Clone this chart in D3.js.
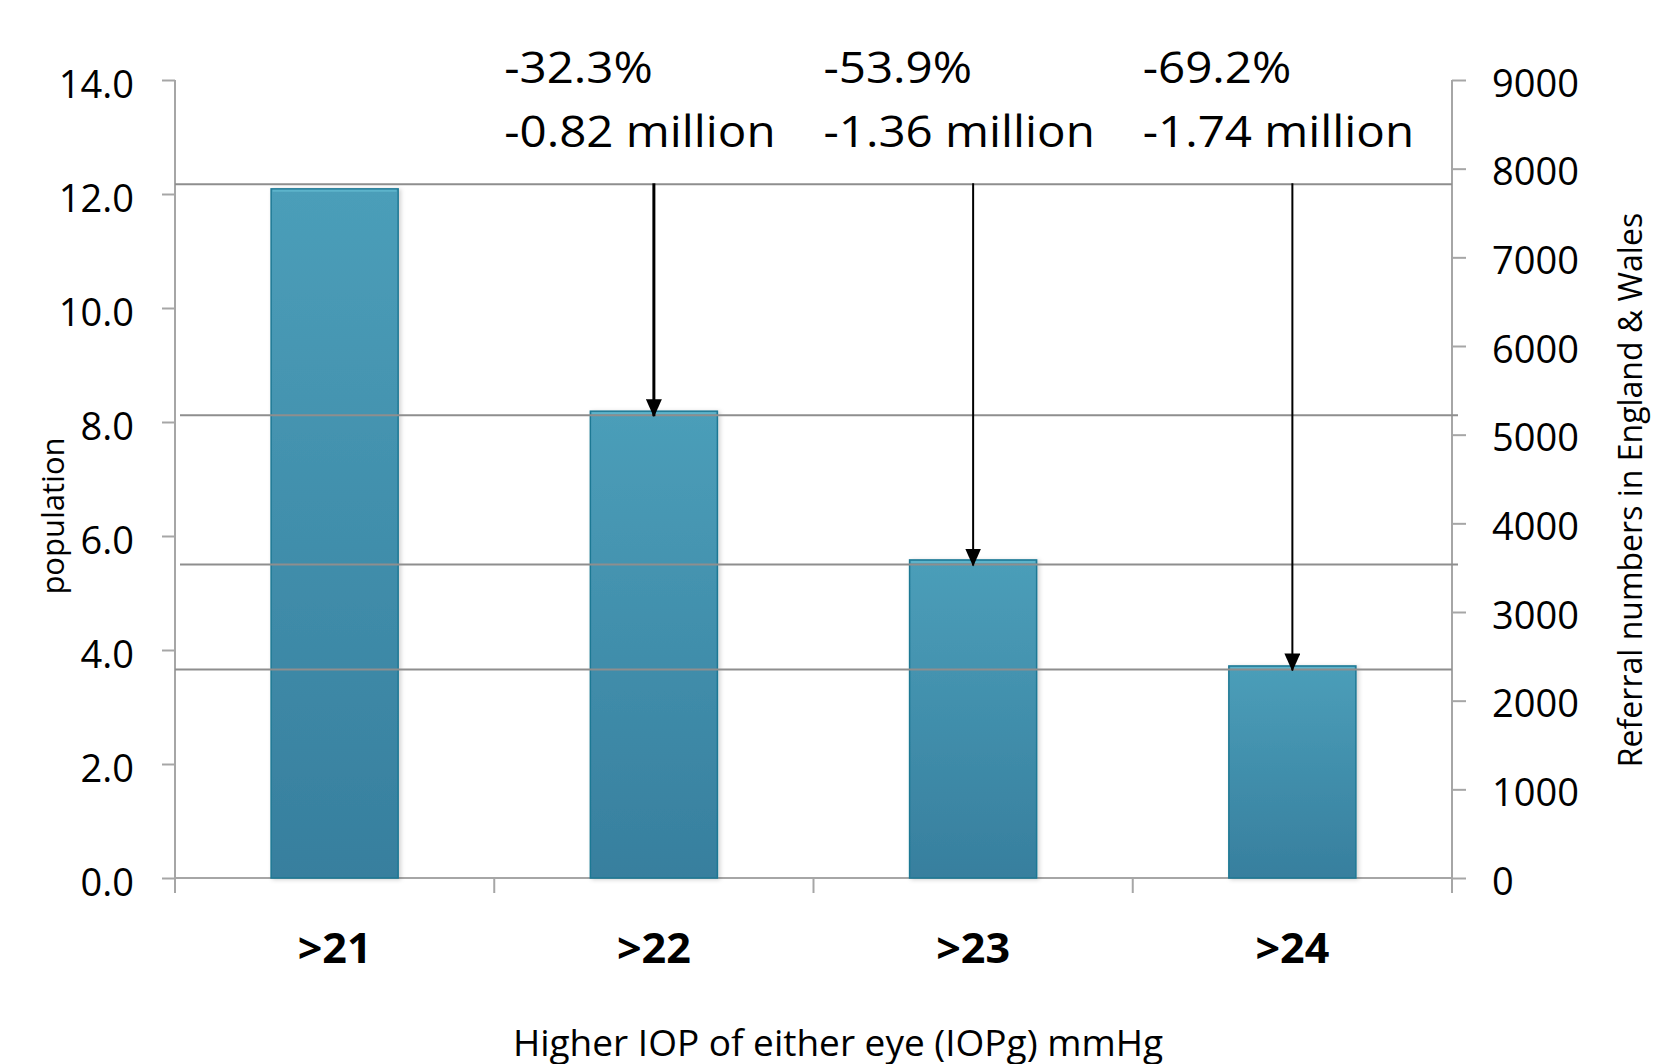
<!DOCTYPE html>
<html>
<head>
<meta charset="utf-8">
<script src="https://d3js.org/d3.v7.min.js"></script>
<style>
  body { margin: 0; background: #fff; }
  svg { display: block; font-family: 'Open Sans', sans-serif; }
</style>
</head>
<body>
<div id="vis"></div>
<script>
// chart values
const categories = ['>21', '>22', '>23', '>24']
const population = [12.09, 8.19, 5.58, 3.72]      // left axis, bar heights
const refLevels = [12.17, 8.12, 5.50, 3.66]       // grey guide lines drawn across the plot
const pctChange = ['', '-32.3%', '-53.9%', '-69.2%']
const millionChange = ['', '-0.82 million', '-1.36 million', '-1.74 million']
const leftTicks = [0, 2, 4, 6, 8, 10, 12, 14]
const rightTicks = [0, 1000, 2000, 3000, 4000, 5000, 6000, 7000, 8000, 9000]

const width = 1666
const height = 1064
const plot = { left: 175, right: 1452, top: 80, bottom: 878 }

const svg = d3.select('#vis').append('svg')
  .attr('width', width)
  .attr('height', height)

svg.append('rect').attr('width', width).attr('height', height).attr('fill', '#fff')

const defs = svg.append('defs')
const grad = defs.append('linearGradient').attr('id', 'barFill')
  .attr('x1', 0).attr('y1', 0).attr('x2', 0).attr('y2', 1)
grad.append('stop').attr('offset', '0%').attr('stop-color', '#4b9eb9')
grad.append('stop').attr('offset', '100%').attr('stop-color', '#377f9e')
defs.append('filter').attr('id', 'shadow')
  .attr('x', '-10%').attr('y', '-5%').attr('width', '125%').attr('height', '115%')
  .append('feDropShadow')
  .attr('dx', 2).attr('dy', 1).attr('stdDeviation', 2)
  .attr('flood-color', '#000').attr('flood-opacity', 0.18)
// arrow head drawn pointing right, turned along the line by orient=auto
defs.append('marker').attr('id', 'arrowHead')
  .attr('viewBox', '0 0 18 16')
  .attr('refX', 17).attr('refY', 8)
  .attr('markerWidth', 18).attr('markerHeight', 16)
  .attr('markerUnits', 'userSpaceOnUse')
  .attr('orient', 'auto')
  .append('path').attr('d', 'M0,0 L18,8 L0,16 Z').attr('fill', '#000')

const xCat = d3.scaleBand().domain(categories).range([plot.left, plot.right])
const x = d3.scaleBand().domain(categories).range([plot.left, plot.right])
  .paddingInner(0.602).paddingOuter(0.301)
const yL = d3.scaleLinear().domain([0, 14]).range([plot.bottom, plot.top])
const yR = d3.scaleLinear().domain([0, 9000]).range([plot.bottom, plot.top])

const axisGrey = '#a6a6a6'

// left axis
const gL = svg.append('g').attr('transform', `translate(${plot.left},0)`)
  .call(d3.axisLeft(yL).tickValues(leftTicks).tickFormat(d3.format('.1f')).tickSize(13).tickPadding(0))
gL.select('.domain').remove()
gL.append('line').attr('x1', 0).attr('x2', 0).attr('y1', plot.top).attr('y2', plot.bottom + 15)
  .attr('stroke', axisGrey).attr('stroke-width', 2)
gL.selectAll('.tick line').attr('stroke', axisGrey).attr('stroke-width', 2)
gL.selectAll('.tick text')
  .attr('x', -41).attr('dy', 17)
  .attr('fill', '#000').style('font-size', '38px').style('font-family', 'Open Sans')

// right axis
const gR = svg.append('g').attr('transform', `translate(${plot.right},0)`)
  .call(d3.axisRight(yR).tickValues(rightTicks).tickFormat(d3.format('d')).tickSize(14).tickPadding(0))
gR.select('.domain').remove()
gR.append('line').attr('x1', 0).attr('x2', 0).attr('y1', plot.top).attr('y2', plot.bottom + 15)
  .attr('stroke', axisGrey).attr('stroke-width', 2)
gR.selectAll('.tick line').attr('stroke', axisGrey).attr('stroke-width', 2)
gR.selectAll('.tick text')
  .attr('x', 40).attr('dy', 16)
  .attr('fill', '#000').style('font-size', '38px').style('font-family', 'Open Sans')

// x axis: baseline, boundary ticks, category labels
svg.append('line')
  .attr('x1', plot.left).attr('x2', plot.right)
  .attr('y1', plot.bottom).attr('y2', plot.bottom)
  .attr('stroke', axisGrey).attr('stroke-width', 2)
const bounds = categories.map(c => xCat(c)).concat([plot.right])
svg.selectAll('.catTick').data(bounds).enter().append('line')
  .attr('class', 'catTick')
  .attr('x1', d => d).attr('x2', d => d)
  .attr('y1', plot.bottom).attr('y2', plot.bottom + 15)
  .attr('stroke', axisGrey).attr('stroke-width', 2)
svg.selectAll('.catLabel').data(categories).enter().append('text')
  .attr('class', 'catLabel')
  .attr('transform', d => `translate(${x(d) + x.bandwidth() / 2},963) scale(1.05,1)`)
  .attr('text-anchor', 'middle')
  .style('font-size', '41px').style('font-weight', 'bold')
  .text(d => d)

// bars
svg.selectAll('.bar').data(categories).enter().append('rect')
  .attr('class', 'bar')
  .attr('x', d => x(d))
  .attr('width', x.bandwidth())
  .attr('y', (d, i) => yL(population[i]))
  .attr('height', (d, i) => plot.bottom - yL(population[i]))
  .attr('fill', 'url(#barFill)')
  .attr('stroke', '#1d7894').attr('stroke-width', 1.5)
  .attr('filter', 'url(#shadow)')
svg.selectAll('.barTop').data(categories).enter().append('line')
  .attr('class', 'barTop')
  .attr('x1', d => x(d) + 1.5).attr('x2', d => x(d) + x.bandwidth() - 1.5)
  .attr('y1', (d, i) => yL(population[i]) + 2).attr('y2', (d, i) => yL(population[i]) + 2)
  .attr('stroke', '#5cb3cb').attr('stroke-width', 2)

// grey guide lines at each level
svg.selectAll('.guide').data(refLevels).enter().append('line')
  .attr('class', 'guide')
  .attr('x1', (d, i) => (i === 1 || i === 2) ? plot.left + 5 : plot.left)
  .attr('x2', (d, i) => (i === 1 || i === 2) ? plot.right + 6 : plot.right)
  .attr('y1', d => yL(d)).attr('y2', d => yL(d))
  .attr('stroke', '#8e8e8e').attr('stroke-width', 2)

// arrows from the first level down to each later bar
svg.selectAll('.arrow').data(categories.slice(1)).enter().append('line')
  .attr('class', 'arrow')
  .attr('x1', d => x(d) + x.bandwidth() / 2).attr('x2', d => x(d) + x.bandwidth() / 2)
  .attr('y1', yL(refLevels[0]) - 1)
  .attr('y2', (d, i) => yL(refLevels[i + 1]) + 1)
  .attr('stroke', '#000').attr('stroke-width', (d, i) => i === 0 ? 3 : 2)
  .attr('marker-end', 'url(#arrowHead)')

// change annotations
const notes = svg.selectAll('.note').data(categories.slice(1)).enter().append('g')
  .attr('class', 'note')
notes.append('text')
  .attr('transform', d => `translate(${xCat(d) + 10},83) scale(1.08,1)`)
  .style('font-size', '44px')
  .text((d, i) => pctChange[i + 1])
notes.append('text')
  .attr('transform', d => `translate(${xCat(d) + 10},147) scale(1.08,1)`)
  .style('font-size', '44px')
  .text((d, i) => millionChange[i + 1])

// axis titles
svg.append('text')
  .attr('transform', 'translate(64,516) rotate(-90)')
  .attr('text-anchor', 'middle')
  .style('font-size', '31px')
  .text('population')
svg.append('text')
  .attr('transform', 'translate(1642,490) rotate(-90)')
  .attr('text-anchor', 'middle')
  .style('font-size', '32px')
  .text('Referral numbers in England & Wales')
svg.append('text')
  .attr('transform', 'translate(838,1056)')
  .attr('text-anchor', 'middle')
  .style('font-size', '37px')
  .text('Higher IOP of either eye (IOPg) mmHg')
</script>
</body>
</html>
